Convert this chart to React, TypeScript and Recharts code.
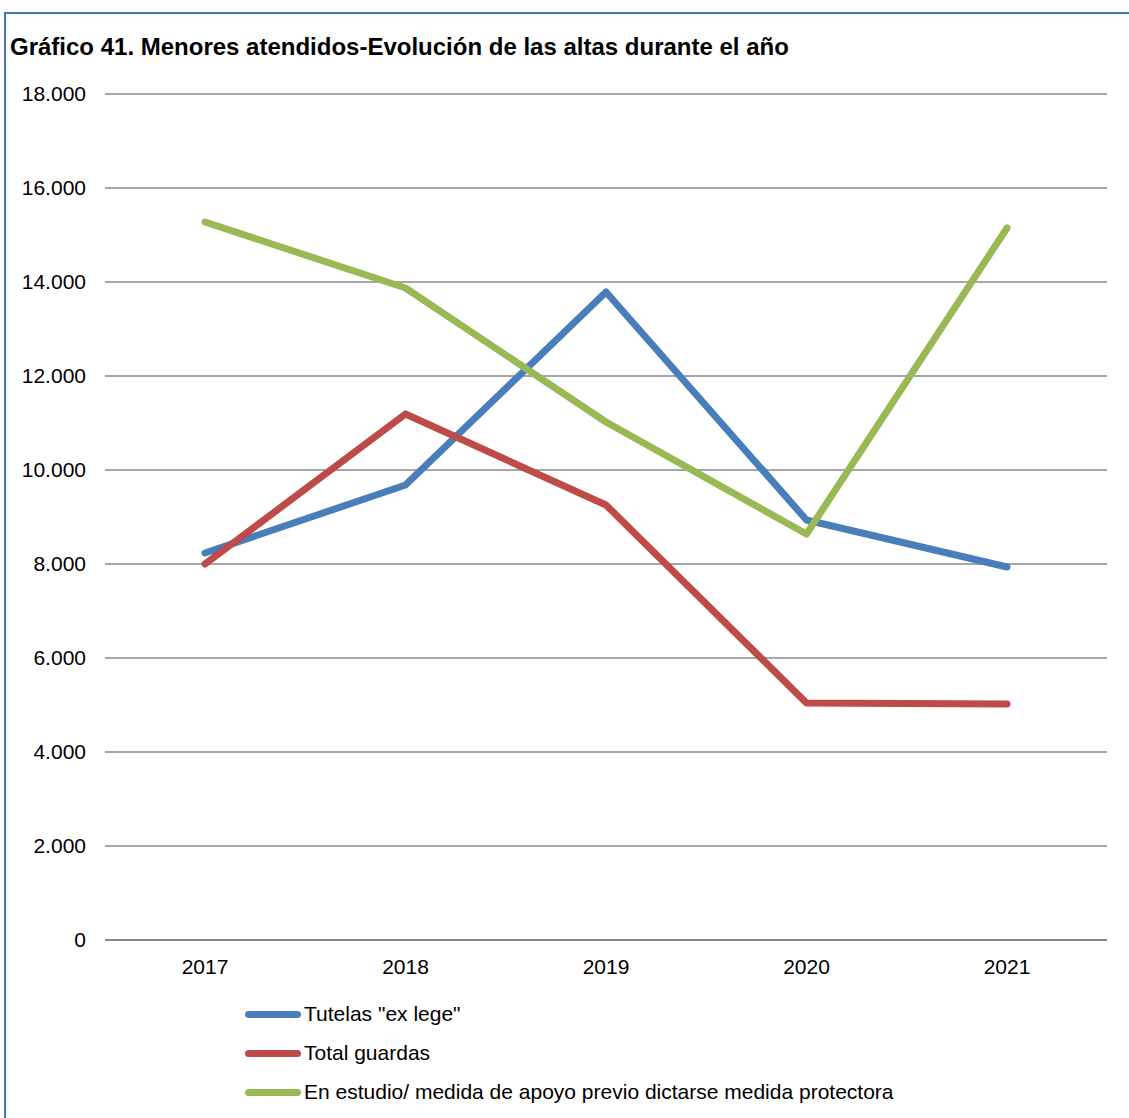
import { LineChart, Line, XAxis, YAxis, CartesianGrid } from 'recharts';

const years = ['2017', '2018', '2019', '2020', '2021'];
const tutelas = [8234, 9681, 13787, 8936, 7936];
const guardas = [8000, 11191, 9255, 5043, 5021];
const estudio = [15277, 13872, 11021, 8638, 15149];
const yTicks = [0, 2000, 4000, 6000, 8000, 10000, 12000, 14000, 16000, 18000];

const series = [
  { key: 'tutelas', name: 'Tutelas "ex lege"', color: '#4a7ebb' },
  { key: 'guardas', name: 'Total guardas', color: '#be4b48' },
  { key: 'estudio', name: 'En estudio/ medida de apoyo previo dictarse medida protectora', color: '#98b954' },
];

const data = years.map((year, i) => ({
  year,
  tutelas: tutelas[i],
  guardas: guardas[i],
  estudio: estudio[i],
}));

const font = '"Liberation Sans", Arial, sans-serif';
const fmt = (v: number) => v.toLocaleString('de-DE');

export default function App() {
  return (
    <div style={{ position: 'absolute', left: 0, top: 0, width: 1129, height: 1118, background: '#fff', overflow: 'hidden', fontFamily: font }}>
      <div style={{ position: 'absolute', left: 4, top: 12, width: 1200, height: 1200, borderTop: '2px solid #3f7ab3', borderLeft: '2px solid #3f7ab3' }} />
      <div style={{ position: 'absolute', left: 10, top: 34, fontSize: 24, fontWeight: 'bold', lineHeight: '26px', color: '#000', whiteSpace: 'nowrap' }}>
        Gráfico 41. Menores atendidos-Evolución de las altas durante el año
      </div>
      <div style={{ position: 'absolute', left: 0, top: 0 }}>
        <LineChart width={1129} height={1118} data={data} margin={{ top: 94, right: 22, bottom: 118, left: 0 }}>
          <CartesianGrid vertical={false} stroke="#a6a6a6" strokeWidth={2} />
          <XAxis
            dataKey="year"
            padding={{ left: 100, right: 100 }}
            axisLine={{ stroke: '#868686', strokeWidth: 2 }}
            tickLine={false}
            tickSize={6}
            tickMargin={13}
            tick={{ fill: '#000', fontSize: 21, fontFamily: font }}
            height={60}
          />
          <YAxis
            domain={[0, 18000]}
            ticks={yTicks}
            tickFormatter={fmt}
            axisLine={false}
            tickLine={false}
            width={105}
            tickSize={6}
            tickMargin={13}
            tick={{ fill: '#000', fontSize: 21, fontFamily: font }}
          />
          {series.map((s) => (
            <Line
              key={s.key}
              type="linear"
              dataKey={s.key}
              name={s.name}
              stroke={s.color}
              strokeWidth={7}
              strokeLinecap="round"
              strokeLinejoin="round"
              dot={false}
              activeDot={false}
              isAnimationActive={false}
            />
          ))}
        </LineChart>
      </div>
      {series.map((s, i) => (
        <div key={s.key} style={{ position: 'absolute', left: 245, top: 1002 + i * 39, height: 24, display: 'flex', alignItems: 'center', fontSize: 21, color: '#000', whiteSpace: 'nowrap' }}>
          <div style={{ width: 56, height: 7, borderRadius: 4, background: s.color, marginRight: 3 }} />
          <span>{s.name}</span>
        </div>
      ))}
    </div>
  );
}
